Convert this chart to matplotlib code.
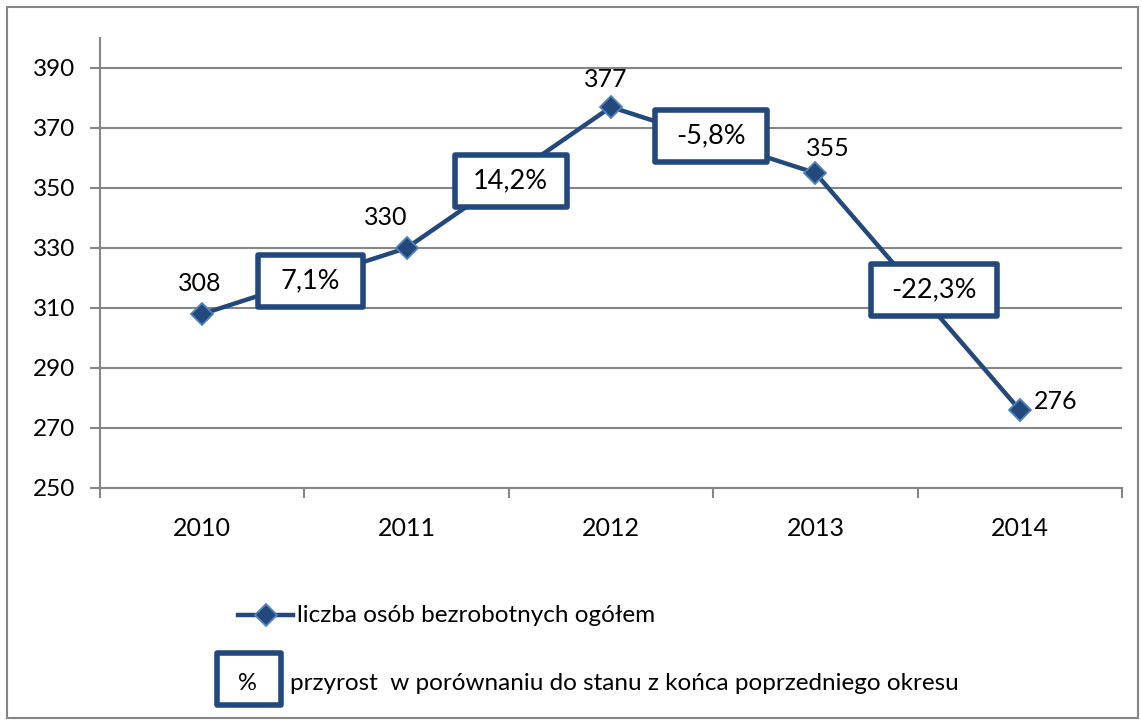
import matplotlib
matplotlib.use("Agg")
import matplotlib.pyplot as plt
from matplotlib.patches import Rectangle
from matplotlib.lines import Line2D

plt.rcParams['font.family'] = ['Lato', 'DejaVu Sans']

# data
years = ["2010", "2011", "2012", "2013", "2014"]
unemployed = [308, 330, 377, 355, 276]
growth_labels = ["7,1%", "14,2%", "-5,8%", "-22,3%"]
# where the growth boxes sit (x in category units, y in data units)
box_x = [0.53, 1.51, 2.49, 3.58]
box_y = [319, 352.3, 367.3, 316]
box_w = [0.51, 0.55, 0.55, 0.62]

line_col = "#23497c"
edge_col = "#4f81bd"
grid_col = "#868686"

fig = plt.figure(figsize=(11.41, 7.2), dpi=100)
# outer chart border
fig.patches.append(Rectangle((7 / 1141, 2 / 720), 1131 / 1141, 711 / 720,
                             transform=fig.transFigure, fill=False,
                             edgecolor=grid_col, lw=1.5))

ax = fig.add_axes([100 / 1141, 1 - 488 / 720, 1022 / 1141, 450 / 720])
x = list(range(len(years)))
ax.plot(x, unemployed, color=line_col, lw=3.2, marker="D", markersize=11.5,
        markerfacecolor=line_col, markeredgecolor=edge_col, markeredgewidth=1.3,
        zorder=3)

ax.set_xlim(-0.5, len(years) - 0.5)
ax.set_ylim(250, 400)
ax.set_yticks(range(250, 400, 20))
ax.set_xticks(x)
ax.set_xticklabels(years)
ax.set_xticks([i - 0.5 for i in range(len(years) + 1)], minor=True)
ax.tick_params(axis="x", which="major", length=0, pad=21, labelsize=18)
ax.tick_params(axis="x", which="minor", length=7, color=grid_col, width=1.5)
ax.tick_params(axis="y", length=7, color=grid_col, width=1.5, labelsize=17.5, pad=11)
ax.yaxis.grid(True, color=grid_col, lw=1.5)
ax.set_axisbelow(True)
for s in ["top", "right"]:
    ax.spines[s].set_visible(False)
for s in ["left", "bottom"]:
    ax.spines[s].set_color(grid_col)
    ax.spines[s].set_linewidth(1.5)

# value labels
offsets = [(-2, 22), (-15, 22), (-4, 20), (9, 18), (26, 6)]
for xi, v, off in zip(x, unemployed, offsets):
    ax.annotate(str(v), (xi, v), xytext=off, textcoords="offset points",
                ha="center", va="center", fontsize=18)

# growth boxes
for bx, by, bw, lab in zip(box_x, box_y, box_w, growth_labels):
    ax.add_patch(Rectangle((bx - bw / 2, by - 8.7), bw, 17.4, facecolor="white",
                           edgecolor=line_col, lw=4, joinstyle="round", zorder=4,
                           clip_on=False))
    ax.text(bx, by, lab, ha="center", va="center", fontsize=19.5, zorder=5)

# legend
fig.add_artist(Line2D([238 / 1141, 293 / 1141], [1 - 615 / 720] * 2, color=line_col,
                      lw=3.2, transform=fig.transFigure))
fig.add_artist(Line2D([266 / 1141], [1 - 615 / 720], color=line_col, marker="D",
                      markersize=11, markerfacecolor=line_col, markeredgecolor=edge_col,
                      markeredgewidth=1.3, transform=fig.transFigure))
fig.text(297 / 1141, 1 - 615 / 720, "liczba osób bezrobotnych ogółem",
         ha="left", va="center", fontsize=17.5)
fig.patches.append(Rectangle((217 / 1141, 1 - 705 / 720), 64 / 1141, 52 / 720,
                             transform=fig.transFigure, facecolor="white",
                             edgecolor=line_col, lw=4, joinstyle="round"))
fig.text(247 / 1141, 1 - 683 / 720, "%", ha="center", va="center", fontsize=17)
fig.text(290 / 1141, 1 - 683 / 720,
         "przyrost  w porównaniu do stanu z końca poprzedniego okresu",
         ha="left", va="center", fontsize=17.5)

fig.savefig("out.png", dpi=100)
